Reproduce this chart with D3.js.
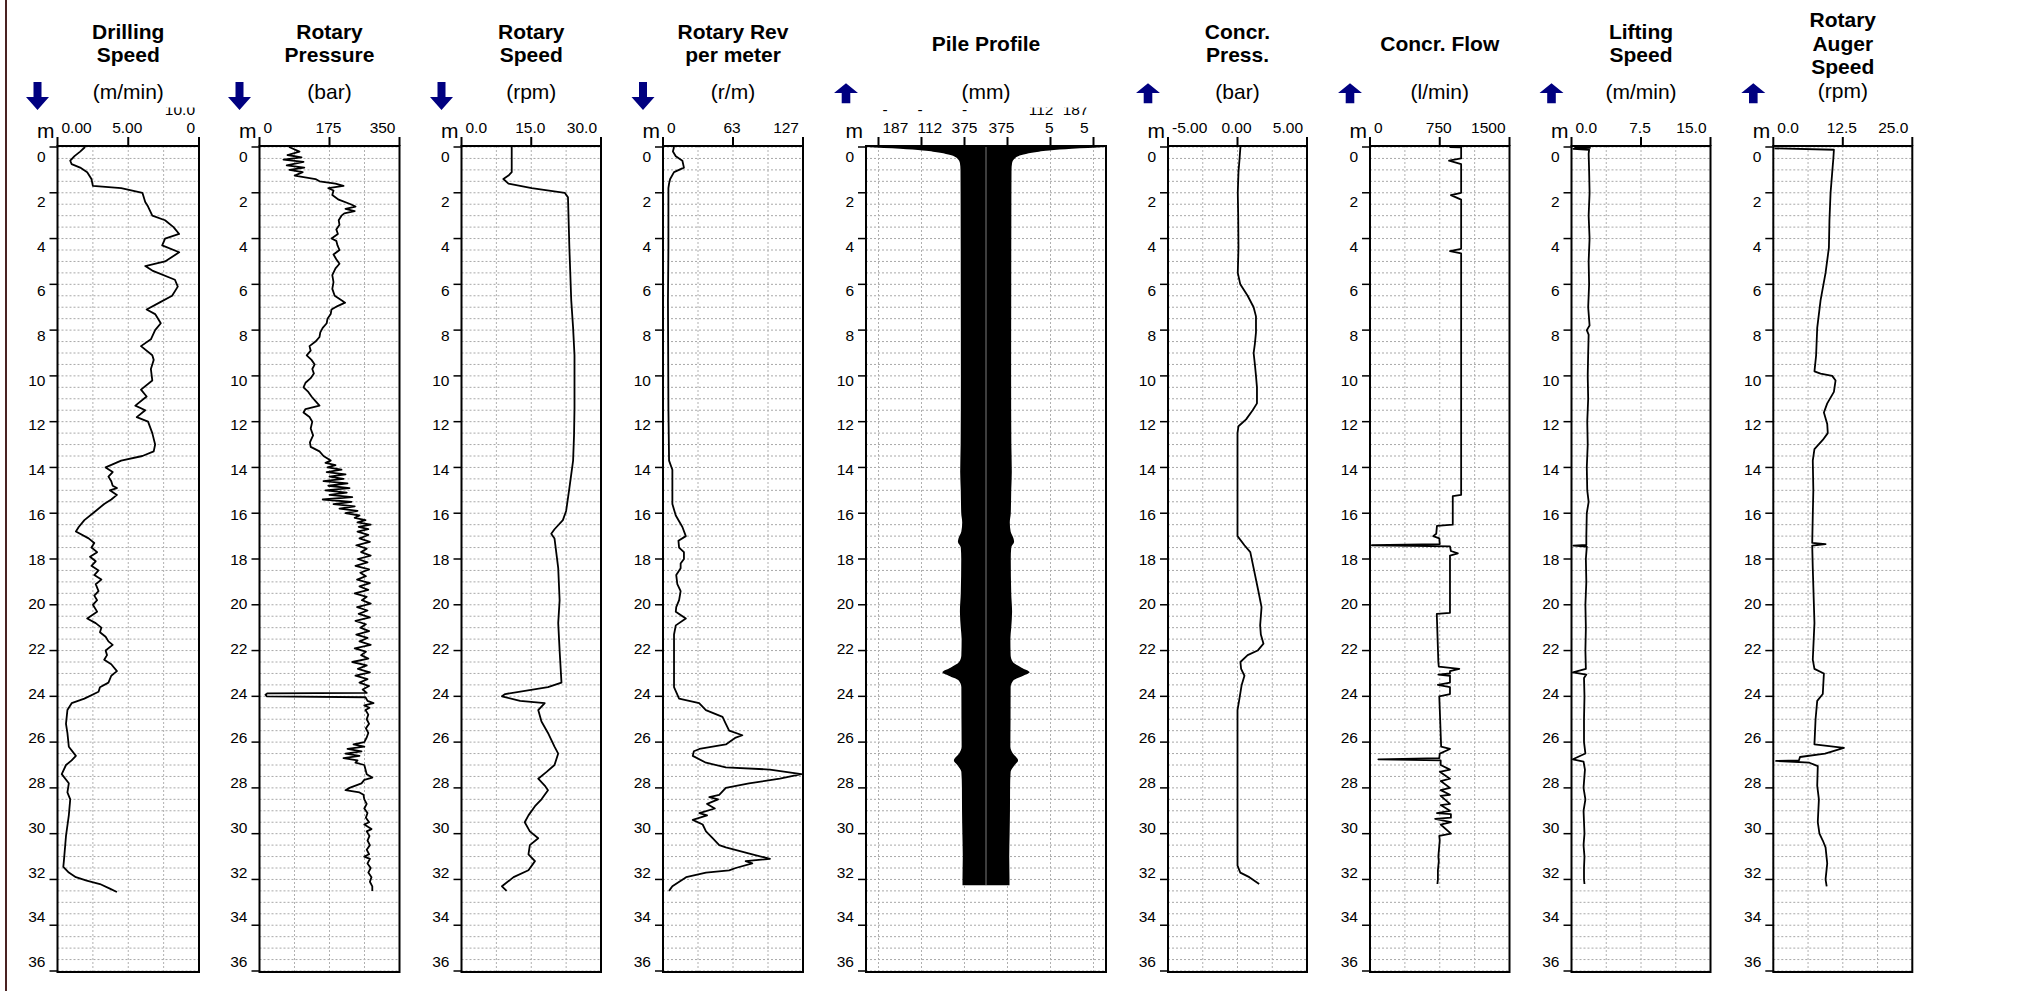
<!DOCTYPE html>
<html><head><meta charset="utf-8">
<script src="https://cdn.jsdelivr.net/npm/d3@7"></script>
<style>body{margin:0;background:#fff}svg{display:block}</style>
</head><body>
<svg id="c" width="2022" height="991"></svg>
<script>
// ---------------- DATA ----------------
const titles = [["Drilling","Speed"],["Rotary","Pressure"],["Rotary","Speed"],["Rotary Rev","per meter"],["Pile Profile"],["Concr.","Press."],["Concr. Flow"],["Lifting","Speed"],["Rotary","Auger","Speed"]];
const units = ["(m/min)","(bar)","(rpm)","(r/m)","(mm)","(bar)","(l/min)","(m/min)","(rpm)"];
const arrowDir = ["down","down","down","down","up","up","up","up","up"];
const xDomains = [[0,10],[0,350],[0,30],[0,127],[-2093,2093],[-5,5],[0,1500],[0,15],[0,25]];
const xTicks = [[0,5,10],[0,175,350],[0,15,30],[0,63.5,127],[-1875,-1125,-375,375,1125,1875],[-5,0,5],[0,750,1500],[0,7.5,15],[0,12.5,25]];
const xTickLabels = [["0.00","5.00","10.0\n0"],["0","175","350"],["0.0","15.0","30.0"],["0","63","127"],["-\n187","-\n112","-\n375","375","112\n5","187\n5"],["-5.00","0.00","5.00"],["0","750","1500"],["0.0","7.5","15.0"],["0.0","12.5","25.0"]];
const depthTicks = [0,2,4,6,8,10,12,14,16,18,20,22,24,26,28,30,32,34,36];

const drillingSpeed = [[0,1.95],[0.2,1.6],[0.4,1.2],[0.6,0.9],[0.75,1.0],[0.9,1.6],[1.1,2.1],[1.4,2.4],[1.7,2.5],[1.8,4.5],[2.0,6.0],[2.4,6.2],[2.6,6.4],[3.0,6.7],[3.2,7.6],[3.5,8.2],[3.8,8.6],[4.0,7.6],[4.3,7.4],[4.6,8.6],[5.0,7.6],[5.2,6.2],[5.4,6.7],[5.8,8.3],[6.1,8.5],[6.5,8.1],[6.8,7.2],[7.1,6.3],[7.3,6.9],[7.7,7.3],[8.0,6.9],[8.4,6.6],[8.7,5.9],[9.1,6.7],[9.3,6.8],[9.7,6.6],[10.2,6.7],[10.6,5.9],[10.9,6.3],[11.3,5.5],[11.5,6.2],[11.8,5.6],[12.0,6.4],[12.5,6.7],[13.0,6.9],[13.3,6.8],[13.5,6.0],[13.7,4.5],[14.0,3.4],[14.2,3.9],[14.4,3.6],[14.6,3.8],[14.8,3.9],[14.9,4.2],[15.0,3.7],[15.2,4.2],[15.4,3.8],[15.6,3.3],[15.9,2.7],[16.3,1.9],[16.6,1.5],[16.8,1.3],[17.1,2.2],[17.3,2.6],[17.5,2.4],[17.7,2.8],[17.9,2.3],[18.1,2.7],[18.3,2.4],[18.5,2.9],[18.7,2.6],[18.9,3.1],[19.1,2.7],[19.4,2.9],[19.6,2.6],[19.8,2.8],[20.0,2.5],[20.3,2.8],[20.6,2.1],[20.8,2.7],[21.0,3.1],[21.2,3.0],[21.4,3.4],[21.6,3.6],[21.75,3.9],[22.0,3.4],[22.2,3.5],[22.4,3.3],[22.6,3.8],[22.9,4.2],[23.1,3.8],[23.4,3.6],[23.6,3.0],[23.8,2.9],[24.1,1.9],[24.3,1.0],[24.6,0.7],[25.2,0.6],[25.6,0.7],[26.2,0.8],[26.6,1.3],[26.8,1.0],[27.0,0.6],[27.4,0.3],[27.8,0.8],[28.2,0.7],[28.5,0.9],[29.2,0.8],[30.1,0.6],[31.2,0.45],[31.45,0.41],[31.7,0.8],[31.9,1.3],[32.05,2.06],[32.2,3.0],[32.4,3.7],[32.55,4.2]];

const rotaryPressure = [[0,74],[0.2,100],[0.35,70],[0.45,105],[0.55,60],[0.65,110],[0.8,68],[0.9,112],[1.0,75],[1.1,108],[1.25,88],[1.4,140],[1.5,150],[1.6,190],[1.7,210],[1.8,172],[1.9,185],[2.1,182],[2.3,198],[2.5,228],[2.6,240],[2.7,215],[2.8,238],[2.9,212],[3.0,205],[3.2,198],[3.4,200],[3.6,192],[3.8,196],[4.0,180],[4.1,192],[4.3,195],[4.5,200],[4.7,185],[4.9,192],[5.1,200],[5.3,190],[5.6,182],[5.9,185],[6.2,182],[6.5,188],[6.7,205],[6.8,214],[6.95,195],[7.1,180],[7.3,178],[7.5,170],[7.7,168],[7.9,158],[8.1,152],[8.3,150],[8.5,140],[8.7,125],[8.9,128],[9.1,118],[9.3,130],[9.5,138],[9.7,132],[9.9,136],[10.1,128],[10.3,115],[10.5,110],[10.7,122],[10.9,130],[11.1,140],[11.3,150],[11.45,115],[11.6,110],[11.8,125],[12.0,132],[12.3,128],[12.6,134],[12.9,126],[13.1,128],[13.3,150],[13.5,160],[13.7,178],[13.8,165],[13.9,190],[14.0,170],[14.1,205],[14.2,168],[14.3,215],[14.4,175],[14.5,210],[14.6,160],[14.7,220],[14.8,172],[14.9,225],[15.0,165],[15.1,218],[15.2,175],[15.3,232],[15.4,158],[15.5,230],[15.6,185],[15.7,238],[15.8,200],[15.9,245],[16.0,215],[16.1,250],[16.2,238],[16.3,265],[16.4,245],[16.5,278],[16.6,248],[16.7,272],[16.8,245],[16.95,272],[17.1,250],[17.25,276],[17.4,242],[17.55,268],[17.7,254],[17.85,278],[18.0,246],[18.15,270],[18.3,240],[18.45,274],[18.6,252],[18.75,266],[18.9,244],[19.05,276],[19.2,250],[19.35,272],[19.5,238],[19.65,268],[19.8,256],[19.95,278],[20.1,244],[20.25,270],[20.4,248],[20.55,276],[20.7,240],[20.85,266],[21.0,252],[21.15,274],[21.3,242],[21.45,270],[21.6,250],[21.75,278],[21.9,238],[22.05,266],[22.2,254],[22.35,272],[22.5,232],[22.65,268],[22.8,246],[22.95,276],[23.1,240],[23.25,270],[23.4,250],[23.55,274],[23.7,258],[23.85,268],[23.87,20],[23.93,15],[24.0,18],[24.04,265],[24.2,270],[24.3,285],[24.4,262],[24.5,275],[24.6,265],[24.8,272],[25.0,268],[25.2,274],[25.4,266],[25.6,272],[25.8,268],[26.0,262],[26.1,235],[26.2,262],[26.3,220],[26.4,255],[26.5,215],[26.6,250],[26.7,210],[26.8,245],[26.9,240],[27.0,262],[27.2,265],[27.4,268],[27.55,282],[27.65,262],[27.8,255],[27.9,240],[28.0,225],[28.1,215],[28.2,250],[28.3,260],[28.5,262],[28.7,268],[28.9,262],[29.1,270],[29.3,266],[29.5,274],[29.6,262],[29.8,280],[29.9,268],[30.1,275],[30.3,270],[30.5,276],[30.7,268],[30.9,274],[31.0,262],[31.1,276],[31.3,270],[31.5,278],[31.7,272],[31.9,280],[32.1,276],[32.3,282],[32.5,282]];

const rotarySpeed = [[0,10.8],[1.1,10.8],[1.25,10.1],[1.4,9.0],[1.6,10.1],[1.8,15.1],[2.0,22.2],[2.2,22.9],[4.4,23.2],[6.7,23.6],[7.9,24.0],[9.1,24.3],[11.4,24.3],[12.6,24.2],[13.7,24.0],[14.9,23.2],[15.9,22.5],[16.3,21.8],[16.7,20.0],[16.9,19.3],[17.1,20.0],[18.4,20.8],[19.8,21.1],[20.8,20.8],[22.0,21.1],[23.4,21.5],[23.6,18.6],[23.9,9.4],[24.0,8.7],[24.2,12.6],[24.3,17.9],[24.6,16.5],[25.1,17.2],[25.6,18.6],[26.2,20.0],[26.5,20.8],[27.0,20.0],[27.3,18.3],[27.6,16.5],[27.9,17.9],[28.1,18.6],[28.5,17.2],[28.8,15.8],[29.2,14.4],[29.5,13.6],[29.9,14.7],[30.2,16.5],[30.5,14.7],[30.9,14.4],[31.2,15.8],[31.6,14.4],[31.9,11.2],[32.3,8.7],[32.5,9.7]];

const rotaryRev = [[0,10],[0.2,9],[0.4,11.6],[0.6,17.6],[0.9,19],[1.1,10],[1.4,6.5],[1.6,5.5],[1.8,4.9],[4.4,4.9],[6.7,4.5],[11.4,4.9],[13.7,5.5],[14.1,8.5],[15.6,8.5],[16.1,11.6],[16.6,17.6],[17.0,20.7],[17.2,14],[17.5,14.6],[17.7,19],[18.0,19],[18.2,16],[18.4,16],[18.7,12],[19.1,13],[19.4,16],[19.8,14.6],[20.1,12],[20.3,11.6],[20.6,20.7],[20.9,11.6],[21.3,10],[22.0,10],[23.6,10],[24.1,14.6],[24.3,32.8],[24.6,38.9],[24.9,54],[25.2,57],[25.5,60],[25.7,72],[25.8,66],[26.1,57],[26.3,33],[26.4,28],[26.6,27],[26.9,39],[27.1,57],[27.2,97],[27.4,125.5],[27.6,106],[27.8,78],[28.0,57],[28.3,51],[28.4,42],[28.5,50],[28.7,40],[28.9,47],[29.1,33],[29.2,40],[29.4,27],[29.6,36],[29.9,39],[30.2,45],[30.5,51],[30.6,57],[30.9,81],[31.1,97],[31.2,75],[31.3,81],[31.5,66],[31.6,60],[31.7,39],[31.9,21],[32.3,8.5],[32.5,5.5]];

const pileHalfWidth = [[0,2093],[0.08,1500],[0.15,1100],[0.25,800],[0.35,620],[0.5,500],[0.7,455],[1,445],[3,442],[6,440],[10,438],[13,442],[14.2,450],[15,440],[16,432],[16.4,415],[16.8,430],[17.1,480],[17.25,490],[17.5,440],[18,432],[19.5,440],[20.3,455],[21,440],[21.5,425],[22.2,430],[22.5,470],[22.75,620],[22.95,760],[23.1,650],[23.3,480],[23.6,430],[25,428],[26.2,425],[26.5,470],[26.8,560],[27.0,500],[27.3,430],[28,420],[29,418],[30,412],[31,405],[32,410],[32.25,410]];

const concrPressure = [[0,0.21],[0.5,0.15],[1.1,0.07],[2,0.02],[3,0.05],[4.4,0.07],[5.5,0.02],[6.0,0.2],[6.5,0.73],[7.0,1.16],[7.4,1.33],[8.1,1.33],[8.6,1.25],[9.0,1.16],[9.5,1.25],[10.0,1.33],[10.5,1.4],[11.2,1.4],[11.5,1.09],[11.9,0.62],[12.2,0.07],[12.5,0],[17.0,0],[17.4,0.5],[17.7,0.92],[18.4,1.16],[19.4,1.5],[20.1,1.73],[20.5,1.68],[20.9,1.63],[21.3,1.68],[21.7,1.87],[22.0,1.45],[22.2,0.73],[22.5,0.21],[22.8,0.26],[23.1,0.5],[23.5,0.3],[24.1,0.14],[24.6,0],[31.4,0],[31.7,0.2],[31.9,0.85],[32.2,1.56]];

const concrFlow = [[0,855],[0.02,980],[0.5,980],[0.6,850],[0.75,980],[2.0,980],[2.1,870],[2.3,980],[4.45,980],[4.55,860],[4.65,980],[15.2,980],[15.25,890],[16.5,890],[16.55,720],[16.9,712],[17.0,680],[17.1,745],[17.35,750],[17.4,20],[17.45,860],[17.65,870],[17.75,945],[17.85,860],[20.35,860],[20.4,718],[22.5,735],[22.7,740],[22.8,960],[22.9,860],[23.0,860],[23.05,735],[23.1,860],[23.4,860],[23.5,730],[23.6,860],[23.9,860],[24.0,745],[26.2,765],[26.3,860],[26.5,750],[26.7,745],[26.75,90],[26.8,760],[27.0,760],[27.2,860],[27.3,750],[27.6,860],[27.7,760],[28.0,860],[28.1,760],[28.3,860],[28.35,760],[28.7,860],[28.75,760],[29.0,860],[29.1,720],[29.15,870],[29.3,870],[29.35,700],[29.5,870],[29.6,760],[30.0,870],[30.1,745],[30.3,750],[31.0,735],[31.2,740],[31.6,730],[32.0,730],[32.2,725]];

const liftingSpeed = [[0,0.3],[0.04,2.0],[0.08,0.2],[0.12,1.9],[0.3,1.85],[1,1.9],[2,1.95],[3,1.85],[4,1.95],[5,1.85],[6,1.9],[7,1.8],[7.8,1.95],[8.0,1.65],[8.2,1.85],[9,1.8],[10,1.75],[11,1.8],[12,1.7],[13,1.75],[14,1.65],[15,1.7],[15.5,1.85],[16,1.65],[17,1.6],[17.38,1.6],[17.42,0.2],[17.46,1.65],[18,1.55],[19,1.6],[20,1.5],[21,1.55],[22,1.5],[22.8,1.55],[22.95,0.15],[23.05,1.6],[23.2,1.35],[24,1.4],[25,1.35],[26,1.35],[26.5,1.5],[26.75,0.15],[26.85,1.3],[27.2,1.45],[28,1.3],[28.5,1.5],[29,1.3],[30,1.4],[30.5,1.3],[31,1.4],[31.5,1.35],[32,1.35],[32.2,1.4]];

const augerSpeed = [[0.06,0.2],[0.12,10.9],[0.5,10.8],[1.1,10.6],[2,10.3],[3.2,10.1],[4.4,10.0],[5.5,9.4],[6.7,8.5],[7.9,7.9],[9.1,7.7],[9.8,7.4],[9.9,8.5],[10.0,10.6],[10.2,11.2],[10.7,10.9],[11.2,9.7],[11.6,9.1],[12.1,9.7],[12.5,9.8],[12.8,8.9],[13.2,7.4],[13.7,7.1],[15,7.2],[16.1,7.1],[17.3,7.0],[17.35,9.4],[17.42,7.0],[18.4,7.1],[20,7.3],[20.8,7.4],[22.4,7.1],[22.8,7.4],[23.0,9.1],[23.9,8.9],[24.2,7.9],[25,7.6],[26.1,7.4],[26.25,12.7],[26.5,9.3],[26.65,4.8],[26.8,4.6],[26.82,0.5],[26.9,6.5],[27.05,8.0],[27.9,7.9],[28.5,8.2],[29.5,8.0],[30.0,8.3],[30.3,8.9],[30.6,9.4],[31.3,9.7],[32.0,9.4],[32.3,9.6]];

const seriesList = [drillingSpeed, rotaryPressure, rotarySpeed, rotaryRev, null, concrPressure, concrFlow, liftingSpeed, augerSpeed];

// ---------------- LAYOUT ----------------
const svg = d3.select("#c");
const W = 2022, H = 991;
const FONT = "'Liberation Sans', Arial, Helvetica, sans-serif";
const frameTop = 146, frameBot = 972;
const y = d3.scaleLinear().domain([0, 36]).range([147, 971]);
const yLab = d3.scaleLinear().domain([0, 36]).range([156.5, 961.5]);
const lefts = [57.5, 259.5, 461.5, 663, 866, 1168, 1370, 1571.5, 1773.3];
const widths = [141.5, 140, 139.5, 140, 240, 139, 139.5, 139, 139];

svg.append("line").attr("x1", 6).attr("x2", 6).attr("y1", 0).attr("y2", H)
  .attr("stroke", "#4a2222").attr("stroke-width", 2);

const defs = svg.append("defs");
defs.append("clipPath").attr("id", "tickclip").append("rect")
  .attr("x", 0).attr("y", 107.5).attr("width", W).attr("height", 40);

titles.forEach((t, i) => {
  const L = lefts[i], Wd = widths[i], R = L + Wd, cx = L + Wd / 2;
  const x = d3.scaleLinear().domain(xDomains[i]).range([L, R]);
  const g = svg.append("g");

  defs.append("clipPath").attr("id", "pc" + i).append("rect")
    .attr("x", L).attr("y", frameTop).attr("width", Wd).attr("height", frameBot - frameTop);

  const vgrid = i === 4 ? xTicks[i] : d3.range(5).map(k => xDomains[i][0] + k * (xDomains[i][1] - xDomains[i][0]) / 4);
  g.append("g").selectAll("line").data(d3.range(0, 36.001, 0.5)).join("line")
    .attr("x1", L).attr("x2", R).attr("y1", d => y(d)).attr("y2", d => y(d))
    .attr("stroke", "#a8a8a8").attr("stroke-width", 1).attr("stroke-dasharray", "2,2");
  g.append("g").selectAll("line").data(vgrid).join("line")
    .attr("x1", d => x(d)).attr("x2", d => x(d)).attr("y1", frameTop).attr("y2", frameBot)
    .attr("stroke", "#b0b0b0").attr("stroke-width", 1).attr("stroke-dasharray", "2,2");

  if (i === 4) {
    const area = d3.area().curve(d3.curveMonotoneY)
      .y(d => y(d[0])).x0(d => x(-d[1])).x1(d => x(d[1]));
    g.append("path").datum(pileHalfWidth).attr("d", area)
      .attr("fill", "#000").attr("clip-path", "url(#pc" + i + ")");
    const last = pileHalfWidth[pileHalfWidth.length - 1][0];
    g.append("line").attr("x1", x(0)).attr("x2", x(0)).attr("y1", y(0)).attr("y2", y(last))
      .attr("stroke", "#9a9a9a").attr("stroke-width", 0.8);
  } else {
    const line = d3.line().x(d => x(d[1])).y(d => y(d[0]));
    g.append("path").datum(seriesList[i]).attr("d", line)
      .attr("fill", "none").attr("stroke", "#000").attr("stroke-width", 1.8)
      .attr("stroke-linejoin", "round").attr("clip-path", "url(#pc" + i + ")");
  }

  g.append("rect").attr("x", L).attr("y", frameTop).attr("width", Wd).attr("height", frameBot - frameTop)
    .attr("fill", "none").attr("stroke", "#000").attr("stroke-width", 2);

  g.append("g").selectAll("line").data(xTicks[i]).join("line")
    .attr("x1", d => x(d)).attr("x2", d => x(d)).attr("y1", frameTop).attr("y2", 137)
    .attr("stroke", "#000").attr("stroke-width", 2);

  let anchors, dxs;
  if (i === 4) { anchors = ["start","start","middle","middle","end","end"]; dxs = [4,-4,0,-6,3,-5]; }
  else { anchors = ["start","middle","end"]; dxs = [4,-1,-4]; }
  const tl = g.append("g").attr("clip-path", "url(#tickclip)");
  xTickLabels[i].forEach((lab, k) => {
    const lines = lab.split("\n");
    lines.forEach((ln, j) => {
      tl.append("text").attr("x", x(xTicks[i][k]) + dxs[k])
        .attr("y", 133 - (lines.length - 1 - j) * 17.6)
        .attr("text-anchor", anchors[k]).attr("font-family", FONT).attr("font-size", 15.5)
        .attr("fill", "#000").text(ln);
    });
  });

  g.append("g").selectAll("line").data(depthTicks).join("line")
    .attr("x1", L - 8).attr("x2", L).attr("y1", d => y(d)).attr("y2", d => y(d))
    .attr("stroke", "#000").attr("stroke-width", 1.5);
  g.append("g").selectAll("text").data(depthTicks).join("text")
    .attr("x", L - 12).attr("y", d => yLab(d)).attr("dy", "0.36em")
    .attr("text-anchor", "end").attr("font-family", FONT).attr("font-size", 15.5)
    .text(d => d);

  g.append("text").attr("x", L - 3).attr("y", 138).attr("text-anchor", "end")
    .attr("font-family", FONT).attr("font-size", 21).text("m");

  t.forEach((ln, j) => {
    g.append("text").attr("x", cx).attr("y", 50.5 + (j - (t.length - 1) / 2) * 23.5)
      .attr("text-anchor", "middle").attr("font-family", FONT).attr("font-weight", "bold")
      .attr("font-size", 21).text(ln);
  });
  g.append("text").attr("x", cx).attr("y", t.length === 3 ? 97.5 : 99).attr("text-anchor", "middle")
    .attr("font-family", FONT).attr("font-size", 21).text(units[i]);

  const ax = L - 20;
  let pts;
  if (arrowDir[i] === "down") {
    pts = [[ax-4,82],[ax+4,82],[ax+4,97],[ax+11.5,97],[ax,110],[ax-11.5,97],[ax-4,97]];
  } else {
    pts = [[ax,83.3],[ax+12,93],[ax+4.3,93],[ax+4.3,103.3],[ax-4.3,103.3],[ax-4.3,93],[ax-12,93]];
  }
  g.append("path").attr("d", "M" + pts.map(p => p.join(",")).join("L") + "Z").attr("fill", "#000080");
});
</script>
</body></html>
